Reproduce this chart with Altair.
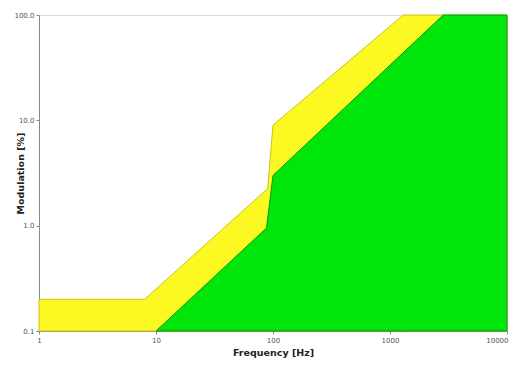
import altair as alt
import pandas as pd

# Upper (yellow) limit curve
yellow_f = [1, 8, 90, 100, 1300, 10000]
yellow_m = [0.2, 0.2, 2.25, 9.0, 100, 100]
# Lower (green) limit curve
green_f = [10, 88, 100, 2850, 10000]
green_m = [0.1, 0.95, 3.0, 100, 100]

x_ticks = [1, 10, 100, 1000, 10000]
y_ticks = [0.1, 1, 10, 100]

yel = pd.DataFrame({"f": yellow_f, "m": yellow_m})
grn = pd.DataFrame({"f": green_f, "m": green_m})

xs = alt.Scale(type="log", domain=[1, 10000], nice=False)
ys = alt.Scale(type="log", domain=[0.1, 100], nice=False, clamp=True)

xaxis = alt.Axis(values=x_ticks, format="d", title="Frequency [Hz]", grid=False,
                 labelFontSize=7, labelColor="#555", tickSize=3, tickColor="#888",
                 domainColor="#888", titleFontSize=9.5, titleFontWeight="bold",
                 titleColor="#222", titlePadding=4, labelPadding=2, labelFlush=False,
                 labelAlign=alt.expr("datum.value >= 10000 ? 'right' : 'center'"),
                 labelOffset=alt.expr("datum.value >= 10000 ? 1 : 0"))
yaxis = alt.Axis(values=y_ticks, format=".1f", title="Modulation [%]", grid=False,
                 labelFontSize=7, labelColor="#555", tickSize=3, tickColor="#888",
                 domainColor="#888", titleFontSize=9.5, titleFontWeight="bold",
                 titleColor="#222", titleX=-19, titleY=158, titleBaseline="middle",
                 titleAnchor="middle", labelPadding=2)

ya = alt.Chart(yel).mark_area(color="#fbf822", stroke="#c9c41a", strokeWidth=1).encode(
    x=alt.X("f:Q", scale=xs, axis=xaxis),
    y=alt.Y("m:Q", scale=ys, axis=yaxis),
    y2=alt.datum(0.1),
)
ga = alt.Chart(grn).mark_area(color="#00e60a", stroke="#0a9a10", strokeWidth=1).encode(
    x=alt.X("f:Q", scale=xs),
    y=alt.Y("m:Q", scale=ys),
    y2=alt.datum(0.1),
)

chart = (ya + ga).properties(
    width=468, height=316,
    autosize=alt.AutoSizeParams(type="none"),
    padding={"left": 31, "top": 7, "right": 2, "bottom": 30},
).configure_view(stroke="#999", strokeWidth=1).configure(font="DejaVu Sans", background="white")

chart.save("out.html", embed_options={"renderer": "svg", "actions": False})
